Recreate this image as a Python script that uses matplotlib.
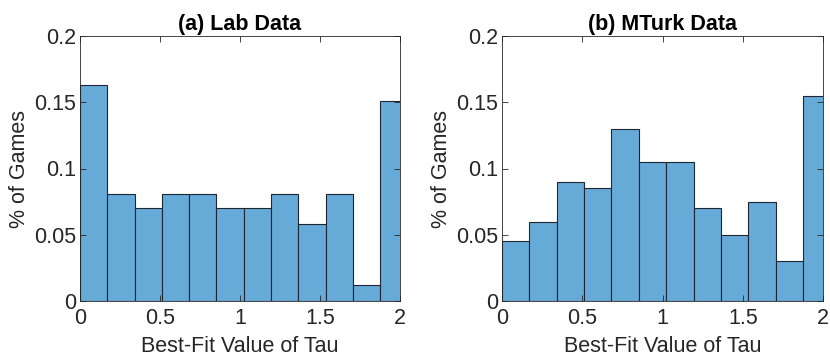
import matplotlib
matplotlib.use("Agg")
import matplotlib.pyplot as plt
import numpy as np

plt.rcParams['font.family'] = ['Liberation Sans', 'DejaVu Sans']

bin_width = 0.1705
n_bins = 12
lab_values = [0.163, 0.081, 0.070, 0.081, 0.081, 0.070, 0.070, 0.081, 0.058, 0.081, 0.012, 0.151]
mturk_values = [0.045, 0.060, 0.090, 0.085, 0.130, 0.105, 0.105, 0.070, 0.050, 0.075, 0.030, 0.155]
titles = ["(a) Lab Data", "(b) MTurk Data"]
xlabel = "Best-Fit Value of Tau"
ylabel = "% of Games"
xticks = [0, 0.5, 1, 1.5, 2]
xticklabels = ["0", "0.5", "1", "1.5", "2"]
yticks = [0, 0.05, 0.1, 0.15, 0.2]
yticklabels = ["0", "0.05", "0.1", "0.15", "0.2"]

face = (0.4, 0.668, 0.845)
axcol = (0.15, 0.15, 0.15)

fig = plt.figure(figsize=(8.3, 3.59), dpi=100)
W, H = 830, 359
boxes = [(80, 36, 400, 301), (502, 36, 823, 301)]
edges = np.arange(n_bins + 1) * bin_width

for (x0, y0, x1, y1), vals, title in zip(boxes, [lab_values, mturk_values], titles):
    ax = fig.add_axes([x0 / W, 1 - y1 / H, (x1 - x0) / W, (y1 - y0) / H])
    ax.bar(edges[:-1], vals, width=bin_width, align='edge', color=face,
           edgecolor=(0.12, 0.15, 0.2), linewidth=0.8)
    ax.set_xlim(0, 2)
    ax.set_ylim(0, 0.2)
    ax.set_xticks(xticks)
    ax.set_xticklabels(xticklabels)
    ax.set_yticks(yticks)
    ax.set_yticklabels(yticklabels)
    ax.tick_params(direction='in', top=True, right=True, length=4, width=0.6,
                   colors=axcol, labelsize=15.5, labelcolor=axcol, pad=3)
    ax.tick_params(axis='x', pad=5)
    for s in ax.spines.values():
        s.set_color(axcol)
        s.set_linewidth(0.6)
    ax.set_title(title, fontsize=15.5, fontweight='bold', pad=4)
    ax.set_xlabel(xlabel, fontsize=15.5, color=axcol, labelpad=5)
    ax.set_ylabel(ylabel, fontsize=15.5, color=axcol, labelpad=3)

fig.savefig("out.png", dpi=100)
